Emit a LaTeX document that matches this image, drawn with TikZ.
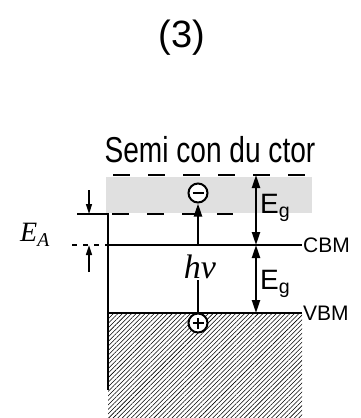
\documentclass[tikz,border=0pt]{standalone}
\usepackage{fontspec}
\newfontfamily\bandfont{Liberation Sans}
\newfontfamily\symfont{Liberation Serif}
\usetikzlibrary{arrows.meta,positioning,patterns.meta}

\begin{document}
\begin{tikzpicture}[
  x=1pt, y=-1pt,
  level/.style={line width=2.5pt},
  dashlevel/.style={line width=2.5pt, dash pattern=on 17pt off 18pt},
  gap/.style={{Triangle[length=13pt,width=8pt]}-{Triangle[length=13pt,width=8pt]}, line width=2.2pt},
  arrowup/.style={-{Triangle[length=13pt,width=8pt]}, line width=2.2pt},
  carrier/.style={circle, draw, line width=2pt, fill=white,
                  minimum size=19pt, inner sep=0pt},
  bandlabel/.style={font=\bandfont\fontsize{21}{21}\selectfont, anchor=west, inner sep=1pt},
  eglabel/.style={font=\bandfont\fontsize{28}{28}\selectfont, anchor=west, inner sep=1pt},
]
  \useasboundingbox (0,0) rectangle (360,418);

  %% Titles
  \node[font=\bandfont\fontsize{38}{38}\selectfont] (title) at (182,38) {(3)};
  \node[font=\bandfont\fontsize{36}{36}\selectfont, xscale=0.78] (semi) at (210,150)
    {Semi con du ctor};

  %% Shaded band and hatched valence band
  \fill[black!12] (106,177) rectangle (312,213);
  \fill[pattern={Lines[angle=45,distance=3.2pt,line width=0.55pt]}] (108,313) rectangle (302,418);

  %% Level coordinates
  \coordinate (topL) at (113,175);
  \coordinate (topR) at (305,175);
  \coordinate (eaL) at (77,214);
  \coordinate (eaM) at (108,214);
  \coordinate (eaR) at (233,214);
  \coordinate (cbmL) at (108,245);
  \coordinate (cbmR) at (302,245);
  \coordinate (vbmL) at (108,313);
  \coordinate (vbmR) at (302,313);
  \coordinate (wallB) at (108,390);

  %% Levels
  \draw[dashlevel] (topL) -- (topR);
  \draw[dashlevel] ([xshift=4pt]eaM) -- (eaR);
  \draw[level] (eaL) -- (eaM) -- (wallB);
  \draw[level] (cbmL) -- (cbmR);
  \draw[level] (vbmL) -- (vbmR);
  \draw[line width=1.5pt, dash pattern=on 5pt off 6pt] (72,245) -- (cbmL);

  \node[bandlabel] (cbm) at (cbmR) {CBM};
  \node[bandlabel] (vbm) at (vbmR) {VBM};

  %% Acceptor depth E_A
  \coordinate (eaTop) at (89,190);
  \coordinate (eaTip) at (89,214);
  \coordinate (eaBot) at (89,272);
  \coordinate (eaTip2) at (89,245);
  \draw[-{Triangle[length=10pt,width=6pt]}, line width=1.6pt] (eaTop) -- (eaTip);
  \draw[-{Triangle[length=10pt,width=6pt]}, line width=1.6pt] (eaBot) -- (eaTip2);
  \node[font=\symfont\itshape\fontsize{28}{28}\selectfont] (ea) at (35,235)
    {E\textsubscript{A}};

  %% Carriers and photon
  \node[carrier] (minus) at (198,193) {};
  \draw[line width=2pt] ([xshift=-5.5pt]minus.center) -- ([xshift=5.5pt]minus.center);
  \node[carrier] (plus) at (198,323) {};
  \draw[line width=1.2pt] ([xshift=-5.5pt]plus.center) -- ([xshift=5.5pt]plus.center)
    ([yshift=-5.5pt]plus.center) -- ([yshift=5.5pt]plus.center);
  \node[font=\symfont\itshape\fontsize{34}{34}\selectfont, inner sep=1pt] (hv) at (200,267) {hν};
  \coordinate (hvTop) at (198,245);
  \draw[line width=2pt] (plus.north) -- (plus.north |- hv.south);
  \draw[arrowup] (hvTop) -- (minus.south);

  %% Gaps
  \coordinate (gTop) at (256,175);
  \coordinate (gMid) at (256,245);
  \coordinate (gBot) at (256,313);
  \draw[gap] (gTop) -- (gMid);
  \draw[gap] (gMid) -- (gBot);
  \node[eglabel] (eg1) at (259,208) {E\textsubscript{g}};
  \node[eglabel] (eg2) at (259,284) {E\textsubscript{g}};

\end{tikzpicture}
\end{document}
